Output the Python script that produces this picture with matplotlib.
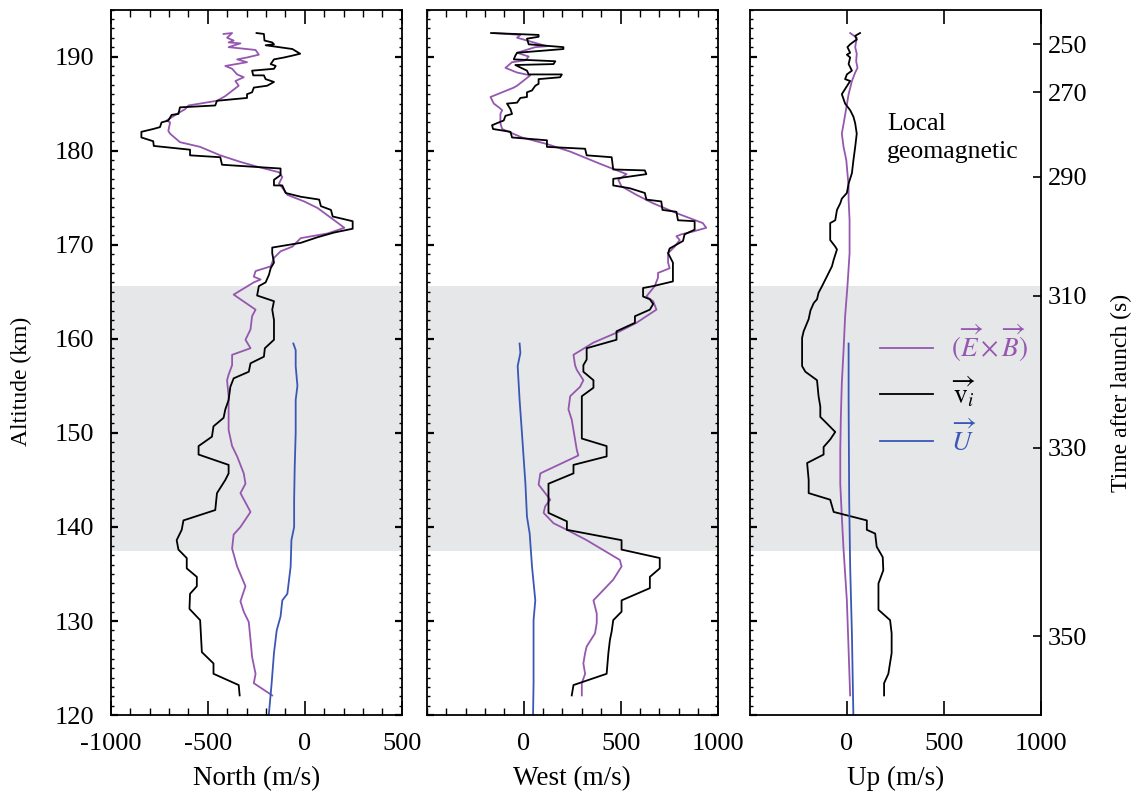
import matplotlib
matplotlib.use("Agg")
import matplotlib.pyplot as plt
from matplotlib.ticker import MultipleLocator

# ---- data: altitude (km) / velocity (m/s) ----
n_vi_alt = [192.5, 192.4, 191.7, 191.5, 191.3, 191.2, 190.8, 190.3, 190.1, 189.9,
            189.7, 189.2, 189.0, 188.7, 188.5, 188.0, 188.0, 187.6, 187.3, 186.9,
            186.7, 186.2, 186.0, 185.6, 185.3, 184.8, 184.6, 183.9, 183.8, 183.2,
            183.0, 182.5, 182.3, 182.0, 181.4, 181.0, 180.5, 180.1, 179.5, 179.3,
            178.5, 178.1, 177.4, 176.9, 176.3, 176.3, 175.5, 175.1, 174.8, 174.1,
            173.7, 173.0, 172.5, 171.7, 171.3, 170.8, 170.2, 169.7, 169.1, 168.1,
            167.5, 166.8, 166.0, 165.6, 164.6, 164.0, 163.1, 162.0, 159.9, 159.0,
            158.1, 157.4, 156.5, 155.8, 154.9, 153.5, 152.5, 151.6, 150.7, 149.6,
            148.6, 147.7, 146.6, 145.7, 145.0, 143.6, 141.8, 140.7, 139.7, 138.6,
            137.6, 136.7, 135.6, 134.7, 133.7, 132.9, 131.3, 130.1, 126.7, 125.5,
            124.4, 123.2, 122.1]
n_vi = [-249, -211, -208, -168, -159, -202, -64, -24, -64, -107,
        -159, -176, -150, -159, -272, -266, -211, -202, -159, -194,
        -263, -272, -298, -298, -453, -462, -644, -652, -687, -704,
        -739, -747, -782, -843, -843, -782, -779, -592, -592, -436,
        -427, -125, -125, -159, -159, -116, -99, -21, 74, 83,
        135, 144, 247, 247, 152, 66, -21, -168, -168, -159,
        -176, -185, -202, -237, -246, -159, -168, -159, -159, -206,
        -211, -280, -289, -367, -384, -393, -410, -419, -471, -479,
        -548, -548, -393, -393, -410, -453, -462, -626, -635, -661,
        -652, -609, -609, -557, -557, -592, -595, -540, -531, -471,
        -471, -341, -336]

n_exb_alt = [192.4, 192.5, 192.0, 191.7, 191.5, 191.4, 191.0, 190.7, 190.2, 189.9,
             189.7, 189.4, 189.0, 188.7, 188.1, 187.8, 187.4, 186.9, 185.8, 185.3,
             184.8, 184.4, 184.0, 183.2, 183.0, 182.1, 181.8, 180.9, 180.4, 179.5,
             178.8, 178.3, 177.7, 177.2, 176.5, 175.6, 175.3, 174.6, 173.9, 172.6,
             171.8, 171.2, 170.7, 169.8, 169.3, 168.6, 167.7, 167.2, 166.6, 166.3,
             166.0, 164.7, 163.1, 162.4, 161.0, 159.9, 159.0, 158.3, 157.2, 156.2,
             155.6, 153.9, 150.3, 148.6, 147.5, 145.7, 144.6, 143.6, 141.6, 140.0,
             139.2, 137.7, 135.8, 133.7, 132.1, 131.0, 129.9, 128.0, 126.2, 125.3,
             124.4, 123.4, 122.1]
n_exb = [-419, -375, -401, -367, -393, -332, -393, -254, -237, -298,
         -349, -298, -410, -375, -349, -315, -358, -341, -410, -453,
         -600, -618, -652, -713, -695, -704, -695, -644, -540, -436,
         -332, -246, -133, -116, -133, -99, -90, -3, 66, 152,
         204, 118, -21, -64, -125, -159, -176, -254, -263, -228,
         -263, -367, -254, -272, -280, -306, -280, -375, -375, -393,
         -401, -393, -393, -375, -349, -315, -306, -332, -280, -332,
         -367, -375, -349, -306, -332, -315, -289, -280, -272, -263,
         -254, -263, -168]

n_u_alt = [159.5, 158.8, 157.1, 155.0, 153.5, 150.0, 146.4, 142.9, 140.0, 138.6,
           135.8, 132.9, 132.2, 130.5, 129.0, 126.6, 123.4, 119.5]
n_u = [-59, -47, -47, -38, -47, -47, -52, -55, -55, -69,
       -73, -90, -116, -125, -145, -159, -171, -188]

w_vi_alt = [192.5, 192.3, 192.1, 191.9, 191.3, 191.0, 190.8, 190.4, 190.1, 189.7,
            189.5, 189.2, 189.1, 188.5, 188.1, 188.1, 187.8, 187.6, 187.1, 186.9,
            186.4, 186.2, 185.7, 185.6, 185.1, 185.0, 184.4, 183.9, 183.7, 183.2,
            183.0, 182.7, 182.3, 182.0, 181.4, 181.1, 180.4, 180.2, 179.5, 179.3,
            178.0, 177.9, 177.5, 177.0, 176.3, 176.0, 175.5, 174.8, 174.6, 173.7,
            173.5, 172.6, 172.5, 171.6, 171.1, 170.4, 169.6, 169.1, 168.1, 166.1,
            165.6, 165.4, 164.5, 164.2, 163.7, 163.1, 162.4, 161.7, 160.8, 159.9,
            159.0, 157.8, 157.2, 156.5, 155.6, 154.8, 153.9, 149.4, 148.6, 147.5,
            146.6, 145.7, 144.6, 141.5, 140.6, 139.7, 138.6, 137.6, 136.7, 135.6,
            134.7, 133.5, 132.2, 131.0, 130.1, 128.9, 128.0, 126.6, 124.4, 123.2,
            122.1]
w_vi = [-168, 77, 77, 17, 26, 205, 205, -34, -43, -51,
        163, 154, -43, 17, 26, 197, 188, 77, 77, 60,
        43, 17, 17, -17, -34, -86, -68, -60, -94, -103,
        -128, -163, -158, -68, -60, 120, 120, 317, 325, 454,
        462, 625, 633, 462, 462, 548, 625, 633, 710, 716,
        788, 796, 882, 882, 830, 822, 753, 745, 770, 770,
        668, 616, 616, 651, 668, 651, 574, 574, 479, 479,
        325, 325, 308, 308, 360, 360, 300, 300, 428, 428,
        257, 257, 128, 128, 223, 223, 505, 505, 702, 702,
        651, 651, 505, 505, 462, 454, 445, 437, 428, 257,
        248]

w_exb_alt = [192.5, 192.3, 192.0, 191.1, 191.0, 190.4, 190.0, 189.6, 189.4, 188.8,
             188.3, 188.0, 186.9, 186.7, 185.7, 185.0, 184.6, 184.3, 183.9, 182.9,
             182.3, 181.4, 180.7, 179.9, 178.6, 177.5, 176.9, 176.2, 175.3, 174.4,
             173.3, 172.3, 171.8, 171.4, 171.1, 170.9, 170.5, 169.8, 169.1, 168.1,
             167.5, 167.0, 166.5, 165.6, 164.5, 164.0, 163.1, 162.4, 161.7, 160.8,
             159.6, 158.3, 157.2, 156.7, 155.6, 154.9, 153.9, 152.5, 151.4, 150.3,
             148.2, 147.6, 145.7, 144.5, 143.6, 142.9, 142.2, 141.5, 140.4, 139.7,
             138.6, 136.5, 135.8, 134.4, 132.2, 130.8, 129.8, 128.7, 127.3, 126.6,
             125.5, 124.4, 123.4, 122.1]
w_exb = [-154, -17, -34, 120, 60, -34, 26, 9, -60, -94,
         -34, 34, -34, -51, -171, -154, -128, -111, -120, -120,
         -111, -9, 120, 240, 394, 531, 488, 505, 582, 668,
         796, 924, 942, 873, 813, 788, 805, 779, 745, 745,
         753, 693, 693, 676, 633, 668, 685, 633, 582, 496,
         360, 257, 265, 274, 308, 291, 240, 231, 248, 257,
         274, 282, 86, 77, 111, 137, 111, 103, 154, 223,
         325, 496, 505, 462, 360, 377, 377, 368, 325, 317,
         308, 317, 300, 300]

w_u_alt = [159.5, 158.5, 157.1, 155.3, 153.5, 150.0, 144.6, 141.1, 139.3, 135.8,
           132.2, 130.1, 126.9, 123.4, 119.5]
w_u = [-21, -17, -31, -26, -21, -9, 9, 17, 31, 43,
       60, 51, 51, 51, 48]

u_vi_alt = [192.5, 192.2, 191.8, 191.7, 191.3, 191.0, 190.4, 190.2, 189.9, 189.2,
            188.5, 188.1, 187.6, 187.4, 186.0, 185.0, 184.3, 183.6, 182.9, 181.8,
            180.4, 179.0, 177.6, 176.5, 175.5, 174.9, 174.4, 173.7, 172.6, 172.3,
            170.5, 169.8, 169.5, 168.4, 167.7, 167.0, 166.3, 165.6, 164.9, 164.2,
            163.8, 163.0, 162.1, 160.8, 160.1, 157.1, 156.5, 155.6, 153.9, 152.8,
            151.7, 151.0, 150.1, 149.3, 148.5, 147.7, 146.8, 145.0, 143.6, 142.9,
            141.6, 140.7, 139.7, 139.3, 137.9, 136.8, 135.4, 134.0, 131.2, 130.1,
            128.7, 126.6, 124.4, 123.4, 122.1]
u_vi = [68, 43, 51, 43, 17, 3, 17, 0, 17, 9,
        26, 0, -9, 17, -26, -9, 17, 34, 43, 51,
        43, 34, 26, 9, 0, -26, -34, -51, -60, -86,
        -86, -60, -51, -68, -77, -94, -111, -128, -146, -154,
        -171, -188, -197, -223, -231, -231, -214, -154, -146, -137,
        -137, -103, -60, -86, -120, -120, -205, -197, -197, -86,
        -68, 103, 103, 146, 154, 185, 188, 163, 163, 223,
        231, 231, 214, 192, 192]

u_exb_alt = [192.5, 192.0, 191.0, 190.3, 189.5, 188.8, 188.3, 187.4, 186.0, 184.9,
             183.2, 181.8, 180.4, 179.0, 177.6, 176.2, 174.8, 172.6, 169.1, 165.6,
             162.4, 158.8, 155.3, 151.7, 148.2, 144.6, 141.1, 137.6, 132.2, 126.9,
             122.1]
u_exb = [17, 51, 43, 51, 48, 55, 43, 26, 9, 0,
         -14, -26, -17, -3, 3, 9, 9, 14, 14, 3,
         -9, -17, -26, -31, -34, -34, -26, -17, 0, 9,
         17]

u_u_alt = [159.5, 153.5, 142.9, 135.8, 128.7, 119.5]
u_u = [9, 9, 12, 17, 26, 34]

shade_alt = (137.5, 165.6)
time_ticks = [250, 270, 290, 310, 330, 350]
time_tick_alt = [191.3, 186.2, 177.2, 164.6, 148.4, 128.4]

c_exb = "#9557b0"
c_vi = "black"
c_u = "#3a57b6"

plt.rcParams["font.family"] = ["Liberation Serif", "DejaVu Serif"]
plt.rcParams["mathtext.fontset"] = "stix"
plt.rcParams["axes.unicode_minus"] = False

fig = plt.figure(figsize=(11.38, 7.92), dpi=100)
bottom, height = 0.097, 0.891
lefts = [0.0975, 0.375, 0.659]
width = 0.2555

panels = [
    ("North (m/s)", (-1000, 500), [-1000, -500, 0, 500],
     (n_exb_alt, n_exb), (n_vi_alt, n_vi), (n_u_alt, n_u)),
    ("West (m/s)", (-500, 1000), [0, 500, 1000],
     (w_exb_alt, w_exb), (w_vi_alt, w_vi), (w_u_alt, w_u)),
    ("Up (m/s)", (-500, 1000), [0, 500, 1000],
     (u_exb_alt, u_exb), (u_vi_alt, u_vi), (u_u_alt, u_u)),
]

axes = []
for i, (xlabel, xlim, xticks, exb, vi, uu) in enumerate(panels):
    ax = fig.add_axes([lefts[i], bottom, width, height])
    ax.axhspan(*shade_alt, color="#e6e7e8", lw=0, zorder=0)
    ax.plot(exb[1], exb[0], color=c_exb, lw=1.3,
            label=r"$(\overrightarrow{E}\times\overrightarrow{B})$")
    ax.plot(vi[1], vi[0], color=c_vi, lw=1.3,
            label=r"$\overrightarrow{\mathrm{v}}_i$")
    ax.plot(uu[1], uu[0], color=c_u, lw=1.3,
            label=r"$\overrightarrow{U}$")

    ax.set_xlim(*xlim)
    ax.set_ylim(120, 195)
    ax.set_xticks(xticks)
    ax.xaxis.set_minor_locator(MultipleLocator(100))
    ax.set_yticks(range(120, 191, 10))
    ax.yaxis.set_minor_locator(MultipleLocator(1))
    ax.set_xlabel(xlabel, fontsize=19.5, labelpad=8)

    ax.tick_params(axis="x", which="both", direction="in", top=True,
                   labelsize=19, pad=13)
    ax.tick_params(axis="x", which="major", length=10, width=1.2)
    ax.tick_params(axis="x", which="minor", length=5, width=1)
    ax.tick_params(axis="y", which="both", direction="in", right=(i < 2),
                   labelsize=19, pad=12)
    ax.tick_params(axis="y", which="major", length=5, width=1.6)
    ax.tick_params(axis="y", which="minor", length=2.5, width=1)
    if i > 0:
        ax.tick_params(axis="y", labelleft=False)
    for sp in ax.spines.values():
        sp.set_linewidth(1.3)
    axes.append(ax)

axes[0].set_ylabel("Altitude (km)", fontsize=17)
axes[0].yaxis.set_label_coords(-0.27, 0.473)

ax3 = axes[2]
ax3.text(207, 184.0, "Local\ngeomagnetic", fontsize=18.5, va="top", ha="left",
         linespacing=1.38)
ax3.legend(loc="upper left", bbox_to_anchor=(0.365, 0.59), frameon=False,
           fontsize=19.5, handlelength=1.95, handletextpad=0.65,
           labelspacing=0.4, labelcolor="linecolor")

axt = ax3.twinx()
axt.set_ylim(ax3.get_ylim())
axt.set_yticks(time_tick_alt, labels=[str(t) for t in time_ticks])
axt.minorticks_off()
axt.tick_params(axis="y", direction="in", length=6, width=1.2, labelsize=19, pad=5)
axt.set_ylabel("Time after launch (s)", fontsize=17)
axt.yaxis.set_label_coords(1.24, 0.456)
for sp in axt.spines.values():
    sp.set_visible(False)

plt.savefig("out.png", dpi=100)
